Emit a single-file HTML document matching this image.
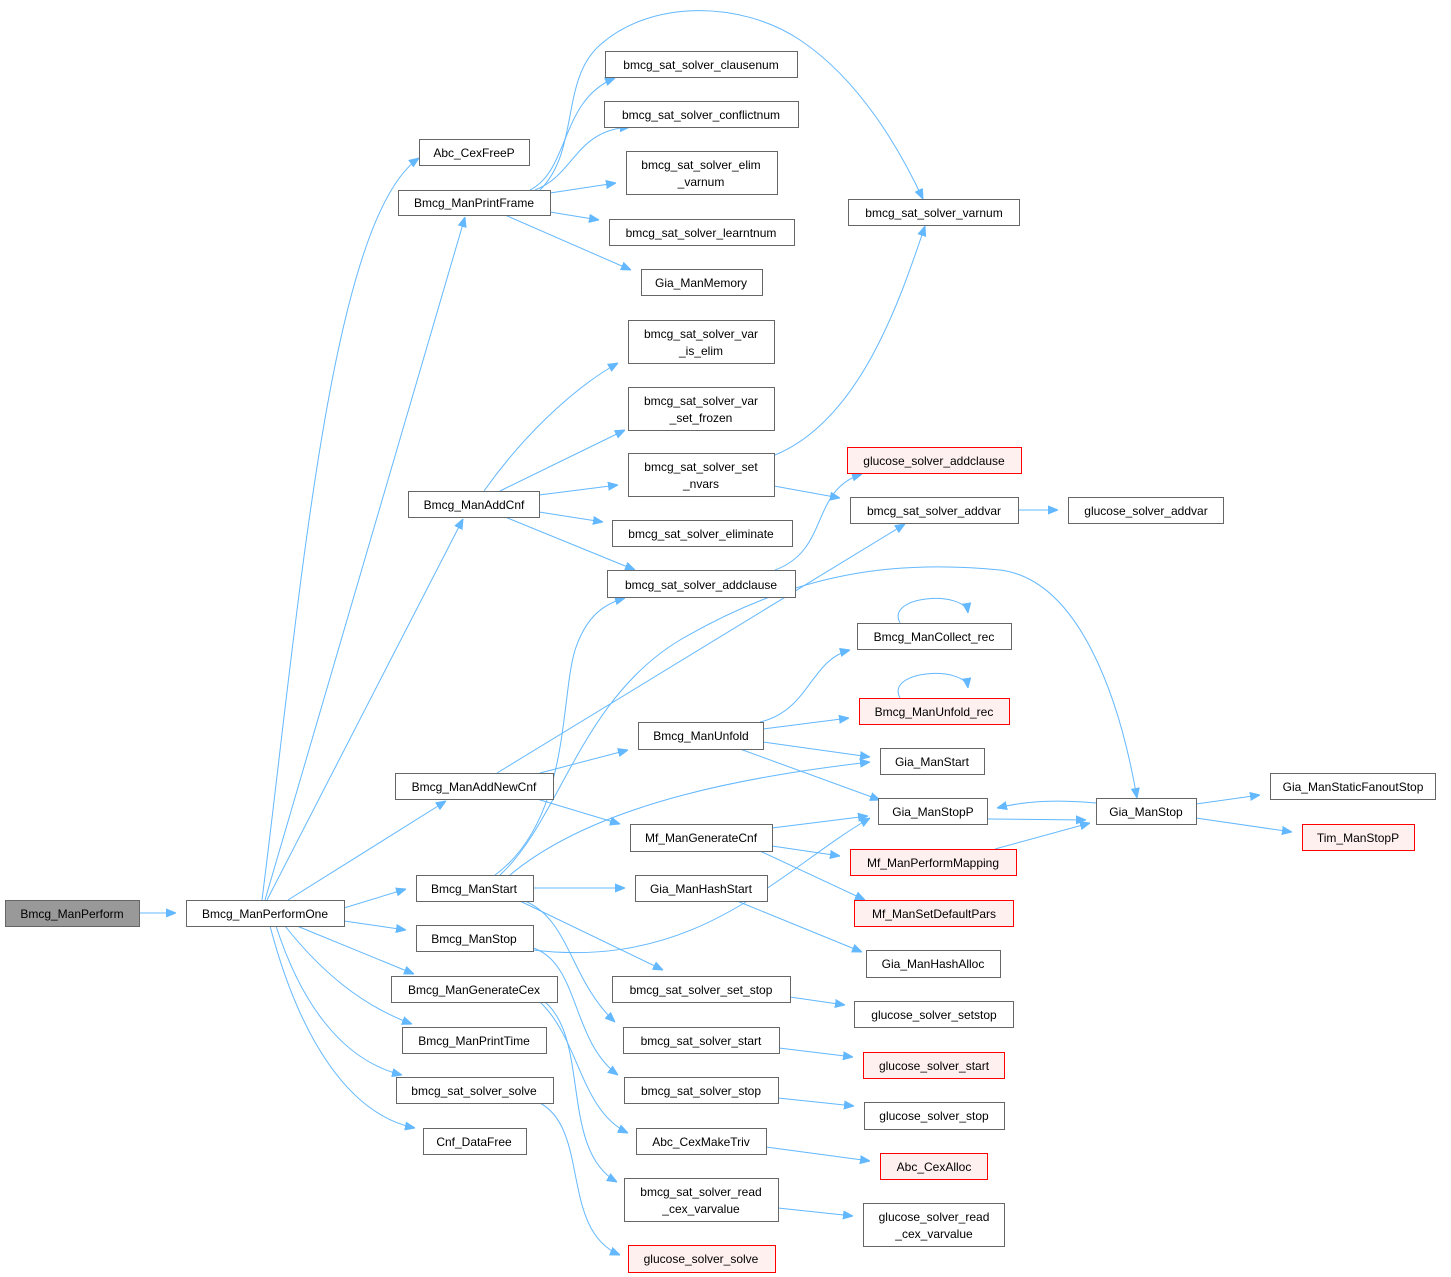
<!DOCTYPE html>
<html><head><meta charset="utf-8"><style>
html,body{margin:0;padding:0;background:#fff;}
svg{display:block;}
text{font-family:"Liberation Sans",Arial,sans-serif;font-size:12px;fill:#000;}
.n{fill:#fff;stroke:#666;stroke-width:1;}
.r{fill:#fff0f0;stroke:#ff0000;stroke-width:1;}
.g{fill:#999;stroke:#666;stroke-width:1;}
.e{fill:none;stroke:#63b8ff;stroke-width:1;marker-end:url(#a);}
</style></head><body>
<svg width="1451" height="1277" viewBox="0 0 1451 1277" xmlns="http://www.w3.org/2000/svg">
<defs><marker id="a" viewBox="0 0 10 10" refX="10" refY="5" markerWidth="10" markerHeight="10" markerUnits="userSpaceOnUse" orient="auto"><path d="M0,1 L10,5 L0,9 z" fill="#63b8ff" stroke="#63b8ff"/></marker></defs>
<g>
<path class="e" d="M139,913 L176,913"/>
<path class="e" d="M262,900 C300,600 330,220 419,158"/>
<path class="e" d="M265,900 L465,217"/>
<path class="e" d="M267,900 L463,519"/>
<path class="e" d="M288,900 L446,801"/>
<path class="e" d="M344,908 L406,889"/>
<path class="e" d="M344,921 L406,930"/>
<path class="e" d="M297,926 L414,974"/>
<path class="e" d="M285,926 C320,970 360,1005 412,1024"/>
<path class="e" d="M276,926 C300,1000 340,1060 402,1075"/>
<path class="e" d="M270,926 C300,1040 350,1115 415,1128"/>
<path class="e" d="M530,190 C570,170 560,100 615,78"/>
<path class="e" d="M535,190 C575,175 575,130 630,127"/>
<path class="e" d="M550,193 L616,183"/>
<path class="e" d="M550,212 L599,220"/>
<path class="e" d="M505,215 L631,270"/>
<path class="e" d="M540,190 C580,150 560,80 600,45 C650,0 740,0 800,40 C860,80 900,150 923,199"/>
<path class="e" d="M484,491 C520,440 570,390 618,363"/>
<path class="e" d="M500,491 L625,430"/>
<path class="e" d="M539,495 L618,485"/>
<path class="e" d="M539,512 L603,522"/>
<path class="e" d="M505,517 L635,570"/>
<path class="e" d="M775,455 C860,420 900,300 925,226"/>
<path class="e" d="M774,486 L840,498"/>
<path class="e" d="M775,570 C830,550 810,490 862,474"/>
<path class="e" d="M1018,510 L1058,510"/>
<path class="e" d="M497,773 L905,524"/>
<path class="e" d="M540,773 L628,750"/>
<path class="e" d="M537,799 L620,824"/>
<path class="e" d="M495,875 C570,820 560,700 575,650 C585,620 600,605 625,598"/>
<path class="e" d="M500,875 C560,820 580,700 680,640 C800,570 900,560 1000,570 C1080,580 1120,700 1137,798"/>
<path class="e" d="M510,875 C600,800 760,775 870,762"/>
<path class="e" d="M533,888 L625,888"/>
<path class="e" d="M520,901 L663,970"/>
<path class="e" d="M525,901 C570,920 570,980 615,1022"/>
<path class="e" d="M533,950 C700,970 780,870 870,818"/>
<path class="e" d="M530,947 C580,960 570,1040 618,1075"/>
<path class="e" d="M540,1002 C580,1040 580,1110 628,1133"/>
<path class="e" d="M545,1002 C590,1040 560,1150 617,1182"/>
<path class="e" d="M540,1103 C590,1130 560,1230 620,1255"/>
<path class="e" d="M760,722 C810,710 810,660 850,650"/>
<path class="e" d="M763,729 L849,718"/>
<path class="e" d="M763,742 L870,757"/>
<path class="e" d="M740,749 L880,800"/>
<path class="e" d="M900,623 C885,595 965,590 968,613"/>
<path class="e" d="M900,698 C885,670 965,665 968,688"/>
<path class="e" d="M772,828 L868,816"/>
<path class="e" d="M772,846 L840,856"/>
<path class="e" d="M760,851 L865,900"/>
<path class="e" d="M987,819 L1086,820"/>
<path class="e" d="M1096,803 C1060,800 1030,800 997,808"/>
<path class="e" d="M995,849 L1090,823"/>
<path class="e" d="M1196,804 L1260,795"/>
<path class="e" d="M1196,818 L1292,832"/>
<path class="e" d="M737,901 L862,952"/>
<path class="e" d="M790,997 L845,1005"/>
<path class="e" d="M779,1048 L853,1057"/>
<path class="e" d="M778,1098 L854,1106"/>
<path class="e" d="M766,1147 L870,1161"/>
<path class="e" d="M778,1208 L853,1216"/>
</g>
<g>
<rect class="g" x="5.5" y="900.5" width="134" height="26"/><text x="72" y="918" text-anchor="middle">Bmcg_ManPerform</text>
<rect class="n" x="186.5" y="900.5" width="158" height="26"/><text x="265" y="918" text-anchor="middle">Bmcg_ManPerformOne</text>
<rect class="n" x="419.5" y="139.5" width="110" height="26"/><text x="474" y="157" text-anchor="middle">Abc_CexFreeP</text>
<rect class="n" x="398.5" y="190.5" width="152" height="25"/><text x="474" y="207" text-anchor="middle">Bmcg_ManPrintFrame</text>
<rect class="n" x="408.5" y="491.5" width="131" height="26"/><text x="474" y="509" text-anchor="middle">Bmcg_ManAddCnf</text>
<rect class="n" x="395.5" y="773.5" width="158" height="26"/><text x="474" y="791" text-anchor="middle">Bmcg_ManAddNewCnf</text>
<rect class="n" x="416.5" y="875.5" width="117" height="26"/><text x="474" y="893" text-anchor="middle">Bmcg_ManStart</text>
<rect class="n" x="416.5" y="925.5" width="117" height="26"/><text x="474" y="943" text-anchor="middle">Bmcg_ManStop</text>
<rect class="n" x="391.5" y="976.5" width="166" height="26"/><text x="474" y="994" text-anchor="middle">Bmcg_ManGenerateCex</text>
<rect class="n" x="402.5" y="1027.5" width="144" height="26"/><text x="474" y="1045" text-anchor="middle">Bmcg_ManPrintTime</text>
<rect class="n" x="396.5" y="1077.5" width="157" height="26"/><text x="474" y="1095" text-anchor="middle">bmcg_sat_solver_solve</text>
<rect class="n" x="423.5" y="1128.5" width="103" height="26"/><text x="474" y="1146" text-anchor="middle">Cnf_DataFree</text>
<rect class="n" x="605.5" y="51.5" width="192" height="26"/><text x="701" y="69" text-anchor="middle">bmcg_sat_solver_clausenum</text>
<rect class="n" x="604.5" y="101.5" width="194" height="26"/><text x="701" y="119" text-anchor="middle">bmcg_sat_solver_conflictnum</text>
<rect class="n" x="626.5" y="151.5" width="151" height="43"/><text x="701" y="169" text-anchor="middle">bmcg_sat_solver_elim</text><text x="701" y="186" text-anchor="middle">_varnum</text>
<rect class="n" x="609.5" y="219.5" width="185" height="26"/><text x="701" y="237" text-anchor="middle">bmcg_sat_solver_learntnum</text>
<rect class="n" x="641.5" y="269.5" width="121" height="26"/><text x="701" y="287" text-anchor="middle">Gia_ManMemory</text>
<rect class="n" x="628.5" y="320.5" width="146" height="43"/><text x="701" y="338" text-anchor="middle">bmcg_sat_solver_var</text><text x="701" y="355" text-anchor="middle">_is_elim</text>
<rect class="n" x="628.5" y="387.5" width="146" height="43"/><text x="701" y="405" text-anchor="middle">bmcg_sat_solver_var</text><text x="701" y="422" text-anchor="middle">_set_frozen</text>
<rect class="n" x="628.5" y="453.5" width="146" height="43"/><text x="701" y="471" text-anchor="middle">bmcg_sat_solver_set</text><text x="701" y="488" text-anchor="middle">_nvars</text>
<rect class="n" x="612.5" y="520.5" width="180" height="26"/><text x="701" y="538" text-anchor="middle">bmcg_sat_solver_eliminate</text>
<rect class="n" x="607.5" y="570.5" width="188" height="27"/><text x="701" y="589" text-anchor="middle">bmcg_sat_solver_addclause</text>
<rect class="n" x="638.5" y="722.5" width="125" height="27"/><text x="701" y="740" text-anchor="middle">Bmcg_ManUnfold</text>
<rect class="n" x="630.5" y="824.5" width="142" height="27"/><text x="701" y="842" text-anchor="middle">Mf_ManGenerateCnf</text>
<rect class="n" x="635.5" y="875.5" width="132" height="26"/><text x="701" y="893" text-anchor="middle">Gia_ManHashStart</text>
<rect class="n" x="612.5" y="976.5" width="178" height="26"/><text x="701" y="994" text-anchor="middle">bmcg_sat_solver_set_stop</text>
<rect class="n" x="623.5" y="1027.5" width="156" height="26"/><text x="701" y="1045" text-anchor="middle">bmcg_sat_solver_start</text>
<rect class="n" x="624.5" y="1077.5" width="154" height="26"/><text x="701" y="1095" text-anchor="middle">bmcg_sat_solver_stop</text>
<rect class="n" x="636.5" y="1128.5" width="130" height="26"/><text x="701" y="1146" text-anchor="middle">Abc_CexMakeTriv</text>
<rect class="n" x="624.5" y="1178.5" width="154" height="43"/><text x="701" y="1196" text-anchor="middle">bmcg_sat_solver_read</text><text x="701" y="1213" text-anchor="middle">_cex_varvalue</text>
<rect class="r" x="628.5" y="1245.5" width="147" height="27"/><text x="701" y="1263" text-anchor="middle">glucose_solver_solve</text>
<rect class="n" x="848.5" y="199.5" width="171" height="26"/><text x="934" y="217" text-anchor="middle">bmcg_sat_solver_varnum</text>
<rect class="r" x="847.5" y="447.5" width="174" height="26"/><text x="934" y="465" text-anchor="middle">glucose_solver_addclause</text>
<rect class="n" x="850.5" y="497.5" width="168" height="26"/><text x="934" y="515" text-anchor="middle">bmcg_sat_solver_addvar</text>
<rect class="n" x="857.5" y="623.5" width="154" height="26"/><text x="934" y="641" text-anchor="middle">Bmcg_ManCollect_rec</text>
<rect class="r" x="859.5" y="698.5" width="150" height="26"/><text x="934" y="716" text-anchor="middle">Bmcg_ManUnfold_rec</text>
<rect class="n" x="880.5" y="748.5" width="104" height="26"/><text x="932" y="766" text-anchor="middle">Gia_ManStart</text>
<rect class="n" x="878.5" y="798.5" width="109" height="26"/><text x="933" y="816" text-anchor="middle">Gia_ManStopP</text>
<rect class="r" x="850.5" y="849.5" width="166" height="26"/><text x="933" y="867" text-anchor="middle">Mf_ManPerformMapping</text>
<rect class="r" x="854.5" y="900.5" width="159" height="26"/><text x="934" y="918" text-anchor="middle">Mf_ManSetDefaultPars</text>
<rect class="n" x="866.5" y="950.5" width="134" height="27"/><text x="933" y="968" text-anchor="middle">Gia_ManHashAlloc</text>
<rect class="n" x="854.5" y="1001.5" width="159" height="26"/><text x="934" y="1019" text-anchor="middle">glucose_solver_setstop</text>
<rect class="r" x="863.5" y="1052.5" width="141" height="26"/><text x="934" y="1070" text-anchor="middle">glucose_solver_start</text>
<rect class="n" x="864.5" y="1102.5" width="140" height="27"/><text x="934" y="1120" text-anchor="middle">glucose_solver_stop</text>
<rect class="r" x="880.5" y="1153.5" width="107" height="26"/><text x="934" y="1171" text-anchor="middle">Abc_CexAlloc</text>
<rect class="n" x="863.5" y="1203.5" width="141" height="43"/><text x="934" y="1221" text-anchor="middle">glucose_solver_read</text><text x="934" y="1238" text-anchor="middle">_cex_varvalue</text>
<rect class="n" x="1068.5" y="497.5" width="155" height="26"/><text x="1146" y="515" text-anchor="middle">glucose_solver_addvar</text>
<rect class="n" x="1096.5" y="798.5" width="100" height="26"/><text x="1146" y="816" text-anchor="middle">Gia_ManStop</text>
<rect class="n" x="1270.5" y="773.5" width="165" height="26"/><text x="1353" y="791" text-anchor="middle">Gia_ManStaticFanoutStop</text>
<rect class="r" x="1302.5" y="824.5" width="112" height="26"/><text x="1358" y="842" text-anchor="middle">Tim_ManStopP</text>
</g>
</svg>
</body></html>
